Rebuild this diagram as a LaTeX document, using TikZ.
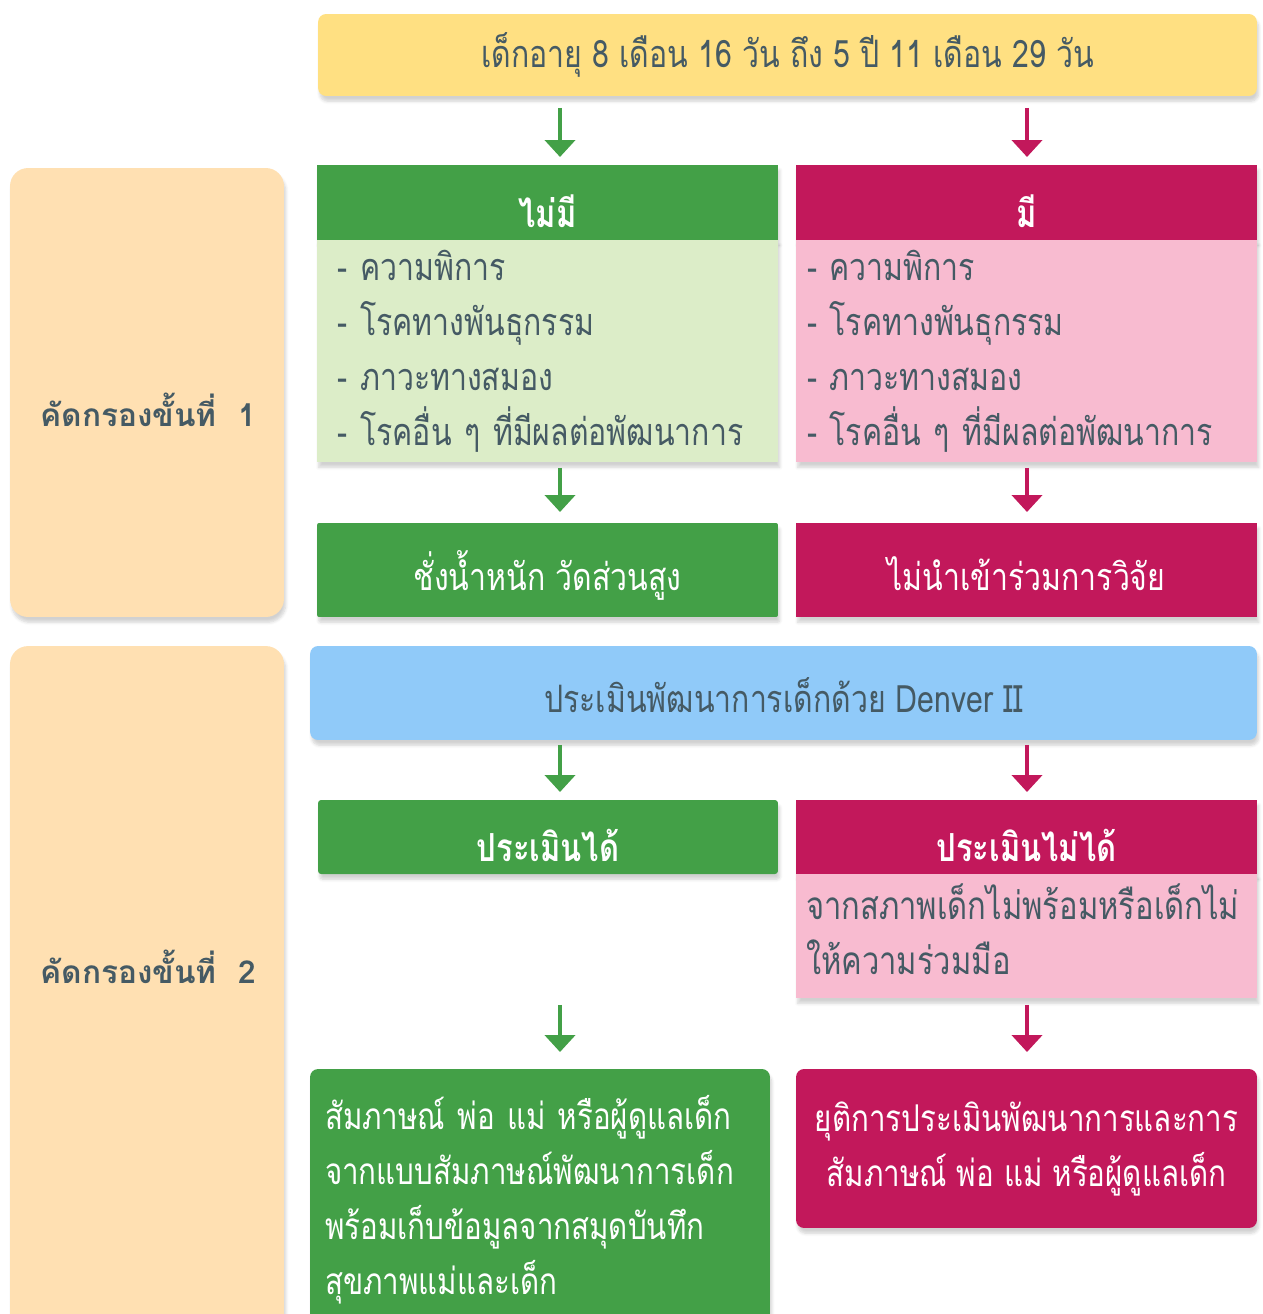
\documentclass[tikz,border=0pt]{standalone}
\usepackage{fontspec}
\newfontfamily\thaifont[Script=Thai]{Loma}
\newfontfamily\thainarrow[Script=Thai,FakeStretch=0.8]{Loma}
\usetikzlibrary{arrows.meta,shadows.blur}

\definecolor{boxyellow}{HTML}{FFE082}
\definecolor{boxpeach}{HTML}{FFE0B2}
\definecolor{boxgreen}{HTML}{43A047}
\definecolor{boxlgreen}{HTML}{DCEDC8}
\definecolor{boxred}{HTML}{C2185B}
\definecolor{boxpink}{HTML}{F8BBD0}
\definecolor{boxblue}{HTML}{90CAF9}
\definecolor{textgrey}{HTML}{455A64}

\begin{document}
\begin{tikzpicture}[x=0.02cm, y=-0.02cm,
    box/.style={inner sep=0pt, outer sep=0pt, text=textgrey,
                blur shadow={shadow xshift=1pt, shadow yshift=-3pt,
                             shadow opacity=18, shadow blur steps=6}},
    lowtext/.style={text height=#1, text depth=0pt},
    head/.style={box, fill=#1, minimum width=9.22cm, minimum height=1.5cm, lowtext=28pt,
                 text=white, font=\thainarrow\bfseries\fontsize{22}{26}\selectfont},
    body/.style={box, fill=#1, minimum width=9.22cm, align=left,
                 font=\thainarrow\fontsize{21.5}{31.3}\selectfont},
    stepbox/.style={box, fill=boxpeach, rounded corners=0.36cm, minimum width=5.48cm},
    steplbl/.style={text=textgrey, font=\thaifont\bfseries\fontsize{18}{22}\selectfont},
    whitebox/.style={box, fill=#1, text=white, font=\thainarrow\fontsize{21}{31.3}\selectfont},
    garr/.style={-{Triangle[width=0.6cm, length=0.34cm]}, line width=0.09cm, draw=boxgreen},
    rarr/.style={-{Triangle[width=0.6cm, length=0.34cm]}, line width=0.09cm, draw=boxred}
]
\useasboundingbox (0,0) rectangle (1263,1314);
\coordinate (gx) at (560,0);
\coordinate (rx) at (1027,0);

% top row
\node[box, fill=boxyellow, rounded corners=0.16cm, minimum width=18.78cm, minimum height=1.64cm,
      font=\thainarrow\fontsize{21.5}{26}\selectfont] (top) at (787.5,55)
  {เด็กอายุ 8 เดือน 16 วัน ถึง 5 ปี 11 เดือน 29 วัน};

% step 1
\node[stepbox, minimum height=8.98cm] (step1) at (147,392.5) {};
\node[steplbl] (step1lbl) at (148,410) {คัดกรองขั้นที่~~1};

\node[head=boxgreen] (nohead) at (547.5,202.5) {ไม่มี};
\node[body=boxlgreen, minimum height=4.44cm, text width=8.4cm] (nobody) at (547.5,351)
  {- ความพิการ\\- โรคทางพันธุกรรม\\- ภาวะทางสมอง\\- โรคอื่น ๆ ที่มีผลต่อพัฒนาการ};
\node[head=boxred] (yeshead) at (1026.5,202.5) {มี};
\node[body=boxpink, minimum height=4.44cm, text width=8.78cm] (yesbody) at (1026.5,351)
  {- ความพิการ\\- โรคทางพันธุกรรม\\- ภาวะทางสมอง\\- โรคอื่น ๆ ที่มีผลต่อพัฒนาการ};

\node[whitebox=boxgreen, rounded corners=0.04cm, minimum width=9.22cm, minimum height=1.88cm,
      lowtext=23pt, font=\thainarrow\fontsize{21.5}{26}\selectfont] (weigh) at (547.5,570)
  {ชั่งน้ำหนัก วัดส่วนสูง};
\node[whitebox=boxred, minimum width=9.22cm, minimum height=1.88cm,
      lowtext=23pt, font=\thainarrow\fontsize{21.5}{26}\selectfont] (exclude) at (1026.5,570)
  {ไม่นำเข้าร่วมการวิจัย};

% step 2
\node[stepbox, minimum height=13.88cm] (step2) at (147,993) {};
\node[steplbl] (step2lbl) at (148,967) {คัดกรองขั้นที่~~2};

\node[box, fill=boxblue, rounded corners=0.16cm, minimum width=18.94cm, minimum height=1.88cm,
      lowtext=22pt, font=\thainarrow\fontsize{21.5}{26}\selectfont] (denver) at (783.5,693)
  {ประเมินพัฒนาการเด็กด้วย Denver II};

\node[head=boxgreen, rounded corners=0.06cm, minimum width=9.2cm, minimum height=1.48cm]
  (evalok) at (548,837) {ประเมินได้};
\node[head=boxred, minimum height=1.48cm] (evalno) at (1026.5,837) {ประเมินไม่ได้};
\node[body=boxpink, minimum height=2.48cm, text width=8.82cm, text depth=39pt,
      font=\thainarrow\fontsize{22}{31.3}\selectfont] (nobody2) at (1026.5,936)
  {จากสภาพเด็กไม่พร้อมหรือเด็กไม่\\ให้ความร่วมมือ};

\node[whitebox=boxgreen, rounded corners=0.16cm, minimum width=9.2cm, minimum height=5.24cm,
      text width=8.6cm, align=left] (interview) at (540,1200)
  {สัมภาษณ์ พ่อ แม่ หรือผู้ดูแลเด็ก\\จากแบบสัมภาษณ์พัฒนาการเด็ก\\พร้อมเก็บข้อมูลจากสมุดบันทึก\\สุขภาพแม่และเด็ก};
\node[whitebox=boxred, rounded corners=0.16cm, minimum width=9.22cm, minimum height=3.18cm,
      align=center] (stop) at (1026.5,1148.5)
  {ยุติการประเมินพัฒนาการและการ\\สัมภาษณ์ พ่อ แม่ หรือผู้ดูแลเด็ก};

% arrows
\draw[garr, shorten <=0.24cm, shorten >=0.16cm] (top.south -| gx) -- (nohead.north -| gx);
\draw[rarr, shorten <=0.24cm, shorten >=0.16cm] (top.south -| rx) -- (yeshead.north -| rx);
\draw[garr, shorten <=0.12cm, shorten >=0.22cm] (nobody.south -| gx) -- (weigh.north -| gx);
\draw[rarr, shorten <=0.12cm, shorten >=0.22cm] (yesbody.south -| rx) -- (exclude.north -| rx);
\draw[garr, shorten <=0.1cm, shorten >=0.16cm] (denver.south -| gx) -- (evalok.north -| gx);
\draw[rarr, shorten <=0.1cm, shorten >=0.16cm] (denver.south -| rx) -- (evalno.north -| rx);
\draw[garr, shorten <=0.14cm, shorten >=0.34cm] (nobody2.south -| gx) -- (interview.north -| gx);
\draw[rarr, shorten <=0.14cm, shorten >=0.34cm] (nobody2.south -| rx) -- (stop.north -| rx);

\end{tikzpicture}
\end{document}
